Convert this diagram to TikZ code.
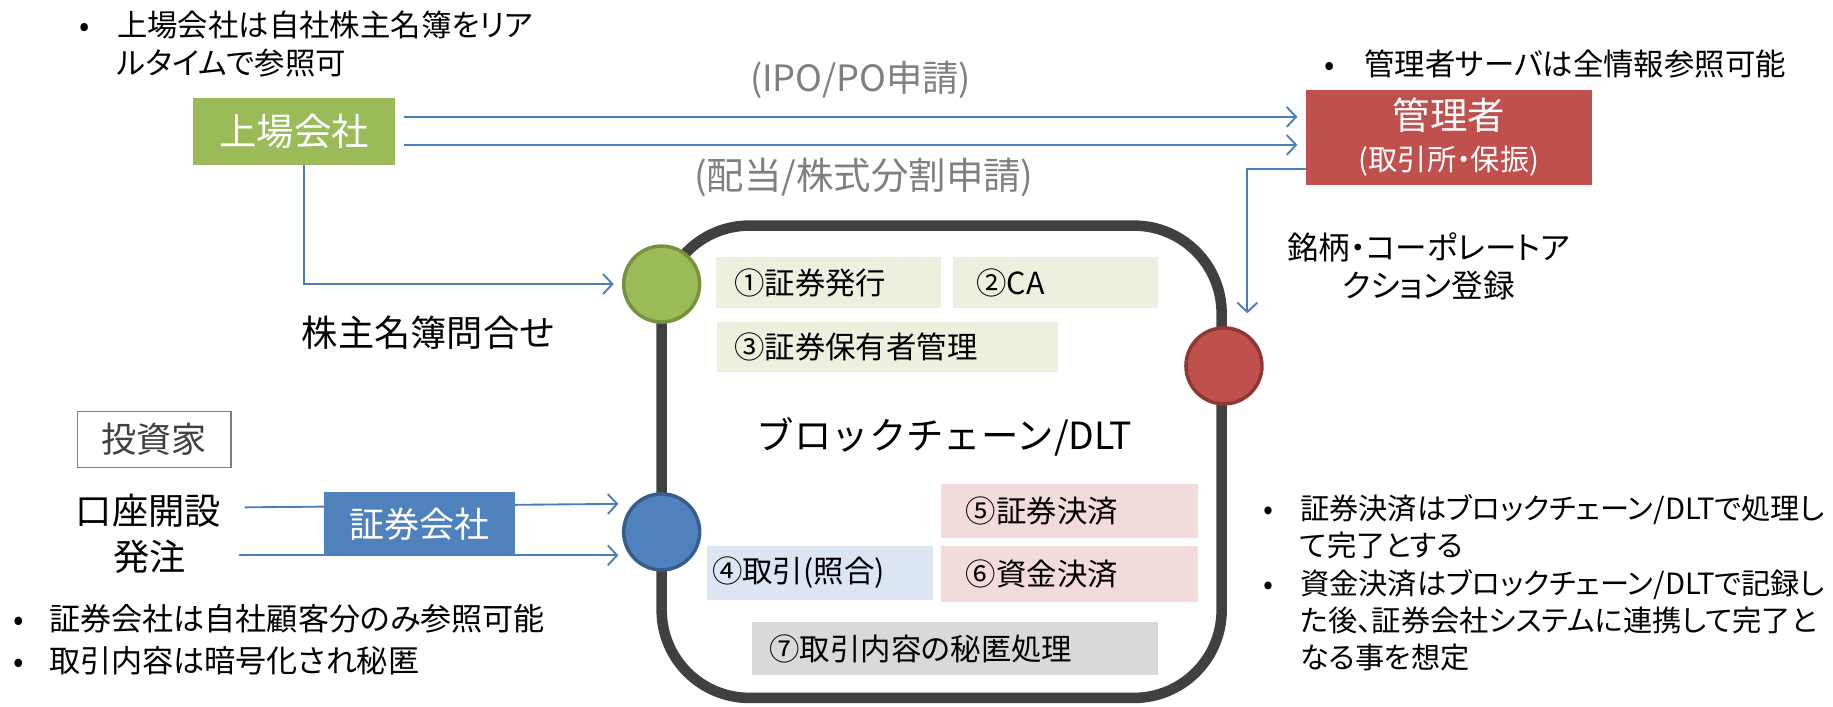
\documentclass[tikz,border=0pt]{standalone}
\usepackage{fontspec}
\setmainfont{Noto Sans CJK JP}[RawFeature=+palt]
\newfontfamily\nopalt{Noto Sans CJK JP}
\usetikzlibrary{arrows.meta,calc}
\definecolor{cgreen}{HTML}{9BBB59}
\definecolor{cgreenD}{HTML}{76923C}
\definecolor{cred}{HTML}{C0504D}
\definecolor{credD}{HTML}{8C3836}
\definecolor{cblue}{HTML}{4F81BD}
\definecolor{cblueD}{HTML}{385D8A}
\definecolor{cline}{HTML}{4A7EBB}
\definecolor{lgreen}{HTML}{EBF1DE}
\definecolor{lred}{HTML}{F2DCDB}
\definecolor{lblue}{HTML}{DCE6F2}
\definecolor{lgray}{HTML}{D9D9D9}
\definecolor{dlt}{HTML}{404040}
\definecolor{gtext}{HTML}{7F7F7F}
\newcommand\fsz[2]{\fontsize{#1}{#2}\selectfont}
\newcommand\bul[1]{\makebox[#1][l]{•}}
\begin{document}
\begin{tikzpicture}[x=1pt,y=-1pt,
  arr/.style={draw=cline, line width=1.6pt, -{Straight Barb[length=8pt,width=17pt,line width=1.6pt]}},
  lbl/.style={inner sep=0pt, align=left},
  solid box/.style={inner sep=0pt, text=white},
  ibox/.style={inner ysep=0pt, align=left, anchor=north west, font=\fsz{26}{30}},
  circ/.style={circle, line width=3pt, minimum size=65pt, inner sep=0pt}
]
\useasboundingbox (0,0) rectangle (1568,604);

% blockchain frame
\draw[draw=dlt, line width=9pt, rounded corners=75pt] (566,193) rectangle (1045,597);

% inner boxes
\node[ibox, fill=lgreen, minimum height=43pt, inner xsep=16pt, text width=161pt] (b1) at (612,220) {①証券発行};
\node[ibox, fill=lgreen, minimum height=43pt, inner xsep=20pt, text width=135pt] (b2) at (815,220) {②CA};
\node[ibox, fill=lgreen, minimum height=43pt, inner xsep=15pt, text width=262pt] (b3) at (613,275) {③証券保有者管理};
\node[ibox, fill=lred, minimum height=46pt, inner xsep=21pt, text width=178pt] (b5) at (805,414) {⑤証券決済};
\node[ibox, fill=lblue, minimum height=46pt, inner xsep=4pt, text width=185pt] (b4) at (605,467) {④取引(照合)};
\node[ibox, fill=lred, minimum height=48pt, inner xsep=21pt, text width=178pt] (b6) at (805,467) {⑥資金決済};
\node[ibox, fill=lgray, minimum height=45pt, inner xsep=15pt, text width=317pt] (b7) at (643,532) {⑦取引内容の秘匿処理};

\node[lbl, font=\nopalt\fsz{32}{36}] (dltlbl) at (808,374) {ブロックチェーン/DLT};

% circles
\node[circ, fill=cgreen, draw=cgreenD] (gc) at (566,243) {};
\node[circ, fill=cred, draw=credD] (rc) at (1047,313) {};
\node[circ, fill=cblue, draw=cblueD] (bc) at (566,455) {};

% listed company
\node[solid box, fill=cgreen, minimum width=173pt, minimum height=57pt, font=\fsz{32}{36}] (jc) at (251.5,112.5) {上場会社};
% administrator
\node[solid box, fill=cred, minimum width=245pt, minimum height=81pt, align=center, font=\fsz{32}{35}] (mg) at (1239.5,117.5) {管理者\\{\fsz{25}{35}(取引所・保振)}};

% top arrows
\draw[arr, shorten <=7pt, shorten >=7pt] ([yshift=12.5pt]jc.east) -- ([yshift=12.5pt]jc.east -| mg.west);
\draw[arr, shorten <=7pt, shorten >=7pt] ([yshift=-11.5pt]jc.east) -- ([yshift=-11.5pt]jc.east -| mg.west);
\node[lbl, text=gtext, font=\fsz{31}{34}] (ipo) at (736,68) {(IPO/PO申請)};
\node[lbl, text=gtext, font=\fsz{32}{34}] (div) at (739,152) {(配当/株式分割申請)};

% listed company -> green circle
\draw[arr, shorten >=7pt] ([xshift=8.5pt]jc.south) |- (gc.west);
\node[lbl, anchor=west, font=\fsz{31}{34}] (kab) at (258,285) {株主名簿問合せ};

% administrator -> red circle
\coordinate (mgend) at (1067,268);
\draw[arr] ([yshift=-27pt]mg.west) -| (mgend);
\node[lbl, align=center, font=\fsz{27}{33}] (meig) at (1222,228) {銘柄・コーポレートア\\クション登録};

% investors
\node[draw=gtext, line width=1.2pt, fill=white, minimum width=131pt, minimum height=48pt, inner sep=0pt, text=dlt, font=\fsz{30}{34}] (inv) at (132,376) {投資家};
\node[lbl, font=\fsz{31}{34}] (kz) at (127,437) {口座開設};
\node[lbl, font=\fsz{31}{34}] (hc) at (128,476) {発注};
\draw[arr, shorten >=3pt] ([xshift=20pt,yshift=3pt]kz.east) -- ([yshift=6pt]kz.east -| bc.west);
\draw[arr, shorten >=3pt] ([xshift=45pt,yshift=1pt]hc.east) -- ([yshift=1pt]hc.east -| bc.west);
\node[solid box, fill=cblue, minimum width=163pt, minimum height=54pt, font=\fsz{30}{34}] (sk) at (359,448) {証券会社};

% bullet notes
\node[lbl, anchor=north west, font=\fsz{26}{33}] (n1) at (68,9) {\bul{32pt}上場会社は自社株主名簿をリア\\\hspace*{32pt}ルタイムで参照可};
\node[lbl, anchor=north west, font=\fsz{26}{33}] (n2) at (1133,42) {\bul{34pt}管理者サーバは全情報参照可能};
\node[lbl, anchor=north west, font=\fsz{26.6}{36}] (n3) at (11,516.7) {\bul{31pt}証券会社は自社顧客分のみ参照可能\\\bul{31pt}取引内容は暗号化され秘匿};
\node[lbl, anchor=north west, font=\fsz{25}{32}] (n4) at (1081,422.5) {\bul{31pt}証券決済はブロックチェーン/DLTで処理し\\\hspace*{31pt}て完了とする\\\bul{31pt}資金決済はブロックチェーン/DLTで記録し\\\hspace*{31pt}た後、証券会社システムに連携して完了と\\\hspace*{31pt}なる事を想定};
\end{tikzpicture}
\end{document}
